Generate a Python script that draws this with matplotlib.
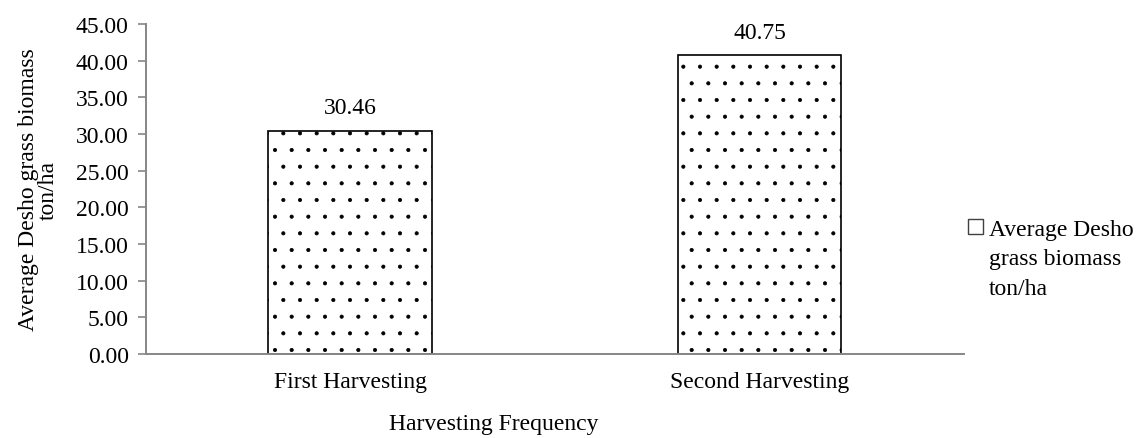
import matplotlib

matplotlib.use("Agg")
import matplotlib.pyplot as plt
from matplotlib.patches import Patch

# data
categories = ["First Harvesting", "Second Harvesting"]
biomass = [30.46, 40.75]
yticks = [0, 5, 10, 15, 20, 25, 30, 35, 40, 45]
legend_lines = ["Average Desho", "grass biomass", "ton/ha"]

plt.rcParams["font.family"] = ["Liberation Serif", "DejaVu Serif"]
plt.rcParams["font.size"] = 17
plt.rcParams["hatch.linewidth"] = 0.5
plt.rcParams["hatch.color"] = "black"

AXIS_GREY = "#868686"

fig = plt.figure(figsize=(11.37, 4.39), dpi=100)
ax = fig.add_axes([0.128, 0.191, 0.720, 0.752])

x = range(len(categories))
bars = ax.bar(x, biomass, width=0.4, color="white", edgecolor="black",
              linewidth=1.2, hatch=".")
for b, v in zip(bars, biomass):
    ax.text(b.get_x() + b.get_width() / 2, v + 1.7, f"{v:.2f}",
            ha="center", va="bottom")

ax.set_xlim(-0.5, 1.5)
ax.set_ylim(0, 45)
ax.set_yticks(yticks)
ax.set_yticklabels([f"{t:.2f}" for t in yticks])
ax.set_xticks(list(x))
ax.set_xticklabels(categories)
ax.tick_params(axis="x", length=0, pad=12)
ax.tick_params(axis="y", length=6, width=1.2, color=AXIS_GREY, pad=6)

for side in ("top", "right"):
    ax.spines[side].set_visible(False)
for side in ("left", "bottom"):
    ax.spines[side].set_color(AXIS_GREY)
    ax.spines[side].set_linewidth(1.4)

ax.set_ylabel("Average Desho grass biomass\nton/ha", linespacing=0.95)
ax.yaxis.set_label_coords(-0.106, 0.5)
ax.set_xlabel("Harvesting Frequency")
ax.xaxis.set_label_coords(0.425, -0.178)

# legend: key sits beside the first line of the wrapped series name
key = Patch(facecolor="white", edgecolor="#404040", linewidth=1.0)
blank = Patch(facecolor="none", edgecolor="none")
fig.legend([key, blank, blank], legend_lines, loc="upper left",
           bbox_to_anchor=(0.851, 0.50), frameon=False,
           handlelength=0.65, handleheight=0.65, handletextpad=0.25,
           borderaxespad=0, borderpad=0, labelspacing=0.35)

fig.savefig("out.png", dpi=100)
